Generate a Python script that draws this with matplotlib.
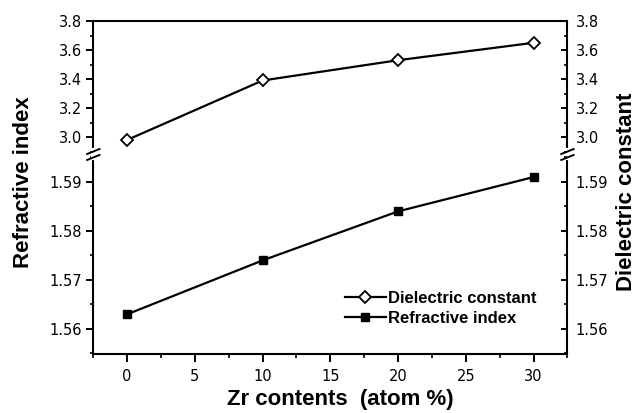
import matplotlib.pyplot as plt
from matplotlib.lines import Line2D

plt.rcParams['font.family'] = 'Liberation Sans'
plt.rcParams['font.weight'] = 'bold'

zr = [0, 10, 20, 30]
dielectric = [2.98, 3.39, 3.53, 3.65]
refractive = [1.563, 1.574, 1.584, 1.591]

top_ticks = [3.0, 3.2, 3.4, 3.6, 3.8]
top_minor = [2.9, 3.1, 3.3, 3.5, 3.7]
bot_ticks = [1.56, 1.57, 1.58, 1.59]
bot_minor = [1.555, 1.565, 1.575, 1.585, 1.595]
x_ticks = [0, 5, 10, 15, 20, 25, 30]
x_minor = [-2.5, 2.5, 7.5, 12.5, 17.5, 22.5, 27.5, 32.5]

tick_font = {'family': 'DejaVu Sans', 'weight': 'normal', 'size': 10.5}

fig = plt.figure(figsize=(6.39, 4.13), dpi=100)
L, W = 0.146, 0.742
ax_top = fig.add_axes([L, 0.6247, W, 0.949 - 0.6247])
ax_bot = fig.add_axes([L, 0.1429, W, 0.6247 - 0.1429])

ax_top.plot(zr, dielectric, color='black', lw=1.6, marker='D', ms=6.5,
            mfc='white', mec='black', mew=1.3)
ax_bot.plot(zr, refractive, color='black', lw=1.6, marker='s', ms=5.5,
            mfc='black', mec='black')

ax_top.set_ylim(2.876, 3.8)
ax_bot.set_ylim(1.5549, 1.5955)
for ax in (ax_top, ax_bot):
    ax.set_xlim(-2.5, 32.5)
    for s in ax.spines.values():
        s.set_linewidth(1.5)

ax_top.spines['bottom'].set_visible(False)
ax_bot.spines['top'].set_visible(False)
ax_top.tick_params(axis='x', which='both', bottom=False, labelbottom=False)

ax_top.set_yticks(top_ticks)
ax_top.set_yticklabels([f'{v:.1f}' for v in top_ticks], fontdict=tick_font)
ax_top.set_yticks(top_minor, minor=True)
ax_bot.set_yticks(bot_ticks)
ax_bot.set_yticklabels([f'{v:.2f}' for v in bot_ticks], fontdict=tick_font)
ax_bot.set_yticks(bot_minor, minor=True)
ax_bot.set_xticks(x_ticks)
ax_bot.set_xticklabels([str(v) for v in x_ticks], fontdict=tick_font)
ax_bot.set_xticks(x_minor, minor=True)

for ax in (ax_top, ax_bot):
    ax.tick_params(axis='y', which='major', direction='out', length=5, width=1.4, pad=3)
    ax.tick_params(axis='y', which='minor', direction='out', length=2.5, width=1.2)
ax_bot.tick_params(axis='x', which='major', direction='out', length=5.5, width=1.4, pad=5)
ax_bot.tick_params(axis='x', which='minor', direction='out', length=3, width=1.2)

# right hand axes, same scale
for ax, ticks, fmt, minor in ((ax_top, top_ticks, '{:.1f}', top_minor),
                             (ax_bot, bot_ticks, '{:.2f}', bot_minor)):
    tw = ax.twinx()
    tw.set_ylim(ax.get_ylim())
    tw.set_yticks(ticks)
    tw.set_yticklabels([fmt.format(v) for v in ticks], fontdict=tick_font)
    tw.set_yticks(minor, minor=True)
    tw.tick_params(axis='y', which='major', direction='in', length=4.5, width=1.4, pad=6)
    tw.tick_params(axis='y', which='minor', direction='in', length=2.5, width=1.2)
    for s in tw.spines.values():
        s.set_visible(False)

# break marks on both spines
d = 0.013
for xa in (0, 1):
    ax_bot.plot([xa, xa], [0.985, 1.025], transform=ax_bot.transAxes,
                color='white', lw=3, clip_on=False, zorder=5)
    ax_bot.plot([xa - d, xa + d], [0.975, 1.0], transform=ax_bot.transAxes,
                color='black', lw=1.4, clip_on=False, zorder=6)
    ax_bot.plot([xa - d, xa + d], [1.005, 1.03], transform=ax_bot.transAxes,
                color='black', lw=1.4, clip_on=False, zorder=6)

handles = [Line2D([], [], color='black', lw=1.6, marker='D', ms=6, mfc='white', mec='black', mew=1.3),
           Line2D([], [], color='black', lw=1.6, marker='s', ms=5.5, mfc='black')]
fig.legend(handles, ['Dielectric constant', 'Refractive index'], loc='upper left',
           bbox_to_anchor=(345 / 639, 1 - 291 / 413), frameon=False, fontsize=12,
           handlelength=2.45, handletextpad=0.15, labelspacing=0.3, borderpad=0,
           borderaxespad=0)

fig.text(340 / 639, 1 - 399 / 413, 'Zr contents  (atom %)', fontsize=16,
         fontweight='bold', ha='center', va='center')
fig.text(24 / 639, 1 - 182 / 413, 'Refractive index', rotation=90, fontsize=16,
         fontweight='bold', ha='center', va='center')
fig.text(626 / 639, 1 - 192 / 413, 'Dielectric constant', rotation=90, fontsize=16,
         fontweight='bold', ha='center', va='center')

fig.savefig('out.png', dpi=100)
